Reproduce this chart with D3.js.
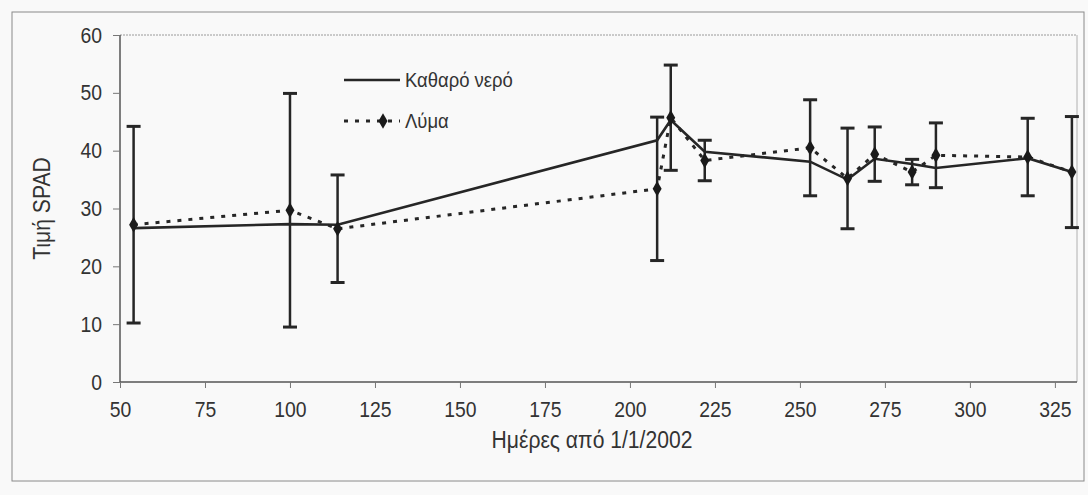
<!DOCTYPE html>
<html><head><meta charset="utf-8">
<script src="https://cdn.jsdelivr.net/npm/d3@7"></script>
<style>
html,body{margin:0;padding:0;background:#fff;}
svg{display:block;font-family:"Liberation Sans",Arial,Helvetica,sans-serif;}
</style></head>
<body><svg id="c" width="1088" height="495"></svg>
<script>
// Data
const days = [54, 100, 114, 208, 212, 222, 253, 264, 272, 283, 290, 317, 330];
const cleanWater = [26.6, 27.3, 27.2, 41.8, 45.3, 39.8, 38.1, 35.0, 38.6, 37.7, 37.0, 38.7, 36.3];
const effluent = [27.2, 29.7, 26.5, 33.4, 45.7, 38.3, 40.5, 35.2, 39.4, 36.3, 39.2, 38.9, 36.3];
const effluentErr = [17.0, 20.2, 9.3, 12.4, 9.1, 3.5, 8.3, 8.7, 4.7, 2.2, 5.6, 6.7, 9.6];
const xTicks = [50, 75, 100, 125, 150, 175, 200, 225, 250, 275, 300, 325];
const yTicks = [0, 10, 20, 30, 40, 50, 60];
const seriesNames = ["Καθαρό νερό", "Λύμα"];
const xTitle = "Ημέρες από 1/1/2002";
const yTitle = "Τιμή SPAD";

const svg = d3.select("#c");
const W = 1088, H = 495;
const L = 120, R = 1077, T = 35, B = 382;
const ink = "#262626";
const SX = 0.88; // horizontal condensing of the text

function condense(sel){
  sel.each(function(){
    const t = d3.select(this);
    const x0 = +(t.attr("x") || 0);
    t.attr("x", x0 / SX).attr("transform", `scale(${SX},1)`);
  });
}

svg.append("rect").attr("x",0).attr("y",0).attr("width",W).attr("height",H).attr("fill","#f9f9f9");
svg.append("rect").attr("x",12).attr("y",12).attr("width",1072).attr("height",469)
  .attr("fill","#f9f9f9").attr("stroke","#8a8a8a").attr("stroke-width",1);

const x = d3.scaleLinear().domain([50, 331.5]).range([L, R]);
const y = d3.scaleLinear().domain([0, 60]).range([B, T]);

// plot frame (top & right)
svg.append("line").attr("x1",L).attr("x2",R).attr("y1",T).attr("y2",T)
  .attr("stroke","#9a9a9a").attr("stroke-width",1).attr("stroke-dasharray","2,1");
svg.append("line").attr("x1",R).attr("x2",R).attr("y1",T).attr("y2",B)
  .attr("stroke","#b0b0b0").attr("stroke-width",1);

// axes
const xAxis = d3.axisBottom(x).tickValues(xTicks).tickSize(6).tickPadding(13).tickFormat(d3.format("d"));
const gx = svg.append("g").attr("transform",`translate(0,${B})`).call(xAxis);
gx.attr("font-family",null);
gx.select(".domain").attr("stroke","#555").attr("stroke-width",1.5).attr("d",`M${L},0H${R}`);
gx.selectAll(".tick line").attr("stroke","#777");
gx.selectAll(".tick text").attr("fill","#333").attr("font-size",22).call(condense);

const yAxis = d3.axisLeft(y).tickValues(yTicks).tickSize(7).tickPadding(11);
const gy = svg.append("g").attr("transform",`translate(${L},0)`).call(yAxis);
gy.attr("font-family",null);
gy.select(".domain").attr("stroke","#555").attr("stroke-width",1.5).attr("d",`M0,${B}V${T}`);
gy.selectAll(".tick line").attr("stroke","#777");
gy.selectAll(".tick text").attr("fill","#333").attr("font-size",22).call(condense);

svg.append("text").attr("x",592/SX).attr("y",448).attr("transform",`scale(${SX},1)`).attr("text-anchor","middle")
  .attr("font-size",24).attr("fill","#333").text(xTitle);
svg.append("text").attr("transform",`translate(50,${(T+B)/2}) rotate(-90) scale(${SX},1)`).attr("text-anchor","middle")
  .attr("font-size",24).attr("fill","#333").text(yTitle);

// error bars (effluent)
const eb = svg.append("g").attr("stroke",ink);
days.forEach((d,i)=>{
  const cx = x(d), lo = y(effluent[i]-effluentErr[i]), hi = y(effluent[i]+effluentErr[i]);
  eb.append("line").attr("x1",cx).attr("x2",cx).attr("y1",lo).attr("y2",hi).attr("stroke-width",2.5);
  eb.append("line").attr("x1",cx-7).attr("x2",cx+7).attr("y1",lo).attr("y2",lo).attr("stroke-width",3);
  eb.append("line").attr("x1",cx-7).attr("x2",cx+7).attr("y1",hi).attr("y2",hi).attr("stroke-width",3);
});

const line = d3.line().x(d=>x(d[0])).y(d=>y(d[1]));
svg.append("path").datum(days.map((d,i)=>[d,effluent[i]])).attr("d",line)
  .attr("fill","none").attr("stroke",ink).attr("stroke-width",3).attr("stroke-dasharray","4,7");
svg.append("path").datum(days.map((d,i)=>[d,cleanWater[i]])).attr("d",line)
  .attr("fill","none").attr("stroke",ink).attr("stroke-width",2.6);

const diamond = d3.symbol().type(d3.symbolDiamond).size(70);
svg.append("g").selectAll("path").data(days).join("path")
  .attr("transform",(d,i)=>`translate(${x(d)},${y(effluent[i])})`)
  .attr("d",diamond).attr("fill","#1a1a1a");

// legend
const lg = svg.append("g");
lg.append("line").attr("x1",344).attr("x2",400).attr("y1",80).attr("y2",80).attr("stroke",ink).attr("stroke-width",2.6);
lg.append("text").attr("x",405).attr("y",87).attr("font-size",21).attr("fill","#333").text(seriesNames[0]).call(condense);
lg.append("line").attr("x1",344).attr("x2",400).attr("y1",121).attr("y2",121).attr("stroke",ink)
  .attr("stroke-width",3).attr("stroke-dasharray","4,7");
lg.append("path").attr("transform","translate(383,121)").attr("d",diamond).attr("fill","#1a1a1a");
lg.append("text").attr("x",405).attr("y",128).attr("font-size",21).attr("fill","#333").text(seriesNames[1]).call(condense);
</script></body></html>
